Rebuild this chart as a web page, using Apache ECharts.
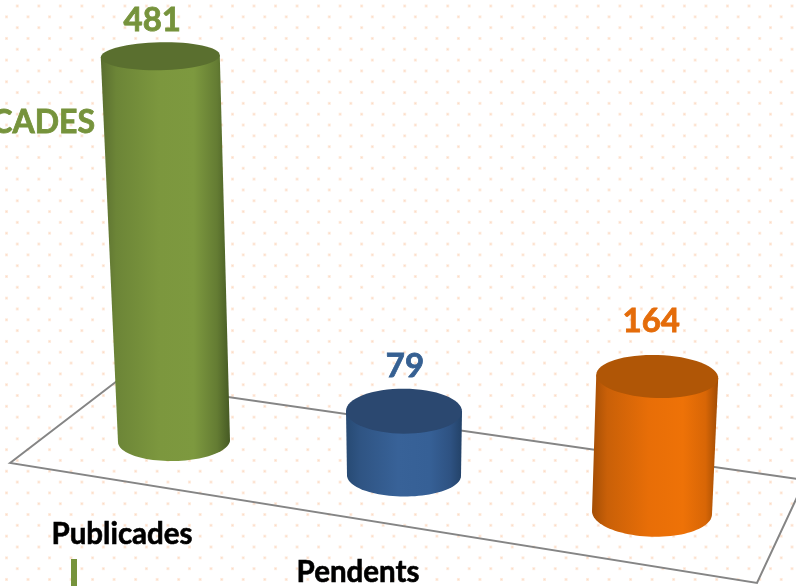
<!DOCTYPE html>
<html>
<head>
<meta charset="utf-8">
<style>html,body{margin:0;padding:0;background:#fff;overflow:hidden}#c{width:796px;height:586px}</style>
<script src="https://cdn.jsdelivr.net/npm/echarts@6/dist/echarts.min.js"></script>
</head>
<body>
<div id="c"></div>
<script>
// --- data ---
const categories = ['Publicades', 'Pendents', ''];
const values = [481, 79, 164];
const seriesTitle = 'PUBLICADES';

// --- look ---
const labelColors = ['#76933c', '#366092', '#e46c0a'];
const topColors = ['#5a6f2f', '#2b4870', '#b05606'];
const sideStops = [
  [[0, '#5a6e30'], [0.12, '#6c8537'], [0.45, '#7c973e'], [0.72, '#7d993f'], [0.9, '#647c33'], [1, '#465a24']],
  [[0, '#274a73'], [0.12, '#2f5483'], [0.45, '#386298'], [0.72, '#366096'], [0.9, '#2e5282'], [1, '#234268']],
  [[0, '#a44e05'], [0.12, '#c96008'], [0.45, '#e86e07'], [0.72, '#ee7207'], [0.9, '#d86606'], [1, '#a04c05']]
];
const slotShift = [1, -9, -1];
const baseWidth = [112, 114, 120];
const topWidth = [119, 116, 122];
const baseRy = [20, 21, 24];
const topRy = [14, 22.5, 21.5];
const tilt = [-0.02, 0.005, 0.03];
const valueLabelOffset = [[-8, -36], [1, -45], [-6, -55]];
const catLabelOffset = [[-52, 93.5], [-46, 96.5], [-46, 96.5]];
const FONT = 'Lato, Carlito, "Open Sans", sans-serif';

function ellipsePts(cx, cy, rx, ry, rot, from, to, n) {
  const pts = [];
  for (let k = 0; k <= n; k++) {
    const a = n ? from + (to - from) * k / n : from;
    const ex = rx * Math.cos(a), ey = ry * Math.sin(a);
    pts.push([cx + ex * Math.cos(rot) - ey * Math.sin(rot), cy + ex * Math.sin(rot) + ey * Math.cos(rot)]);
  }
  return pts;
}

function renderCylinder(params, api) {
  const i = api.value(0), v = api.value(1);
  const zero = api.coord([i, 0]), peak = api.coord([i, v]);
  const bx = zero[0] + slotShift[i];
  const floorShift = 0.15 * (bx - 174);
  const by = zero[1] + floorShift;
  const h = (zero[1] - peak[1]) * (1 + 0.00008 * (bx - 174));
  const ty = by - h;
  const tx = bx + (bx - 404) * h * 0.000155;
  const side = [];
  const rot = tilt[i];
  const tl = ellipsePts(tx, ty, topWidth[i] / 2, topRy[i], rot, Math.PI, Math.PI, 0)[0];
  const tr = ellipsePts(tx, ty, topWidth[i] / 2, topRy[i], rot, 0, 0, 0)[0];
  side.push(tl);
  side.push.apply(side, ellipsePts(bx, by, baseWidth[i] / 2, baseRy[i], rot, Math.PI, 0, 48));
  side.push(tr);
  const c = [
    { type: 'polygon', shape: { points: side },
      style: { fill: new echarts.graphic.LinearGradient(0, 0, 1, 0,
        sideStops[i].map(s => ({ offset: s[0], color: s[1] }))) } },
    { type: 'polygon', shape: { points: ellipsePts(tx, ty, topWidth[i] / 2, topRy[i], rot, 0, Math.PI * 2, 64) },
      style: { fill: topColors[i] } },
    { type: 'text', x: tx + valueLabelOffset[i][0], y: ty + valueLabelOffset[i][1],
      style: { text: String(v), fill: labelColors[i], stroke: labelColors[i], lineWidth: 0.8, font: 'bold 33px ' + FONT, align: 'center', verticalAlign: 'middle' } }
  ];
  if (categories[i]) {
    c.push({ type: 'text', x: bx + catLabelOffset[i][0], y: by + catLabelOffset[i][1],
      style: { text: categories[i], fill: '#000', stroke: '#000', lineWidth: 0.6, font: 'bold 29.5px ' + FONT, align: 'center', verticalAlign: 'middle' } });
  }
  return { type: 'group', children: c };
}

function dots() {
  const cv = document.createElement('canvas');
  cv.width = 796; cv.height = 586;
  const g = cv.getContext('2d');
  g.fillStyle = '#fff';
  g.fillRect(0, 0, 796, 586);
  for (let r = 0; r < 56; r++) {
    const y = 6 + r * 10.82;
    const x0 = r % 2 ? 6.5 : 17.3;
    for (let x = x0; x < 800; x += 21.52) {
      g.fillStyle = 'rgba(253,225,205,0.6)';
      g.fillRect(x - 1.5, y - 1.5, 3, 3);
      g.fillStyle = '#fcdcc6';
      g.fillRect(x - 0.7, y - 0.7, 1.4, 1.4);
    }
  }
  return cv;
}

const chart = echarts.init(document.getElementById('c'), null, { renderer: 'canvas', width: 796, height: 586 });
chart.setOption({
  animation: false,
  backgroundColor: { image: dots(), repeat: 'no-repeat' },
  grid: { left: 53, width: 720, top: 1, bottom: 145 },
  xAxis: { type: 'category', data: categories, show: false },
  yAxis: { type: 'value', min: 0, max: 550, show: false },
  graphic: [
    { type: 'polygon', z: 0, silent: true,
      shape: { points: [[10, 463], [117, 381], [805, 480], [757, 583]] },
      style: { fill: 'none', stroke: '#858585', lineWidth: 2 } },
    { type: 'rect', z: 0, silent: true,
      shape: { x: 71, y: 559, width: 6, height: 27 }, style: { fill: '#76933c' } },
    { type: 'text', z: 1, silent: true, x: 95, y: 123,
      style: { text: seriesTitle, fill: '#76933c', stroke: '#76933c', lineWidth: 0.8, font: 'bold 32px ' + FONT, align: 'right', verticalAlign: 'middle' } }
  ],
  series: [{
    type: 'custom',
    coordinateSystem: 'cartesian2d',
    renderItem: renderCylinder,
    encode: { x: 0, y: 1 },
    clip: false,
    z: 5,
    data: values.map((v, i) => [i, v])
  }]
});
</script>
</body>
</html>
